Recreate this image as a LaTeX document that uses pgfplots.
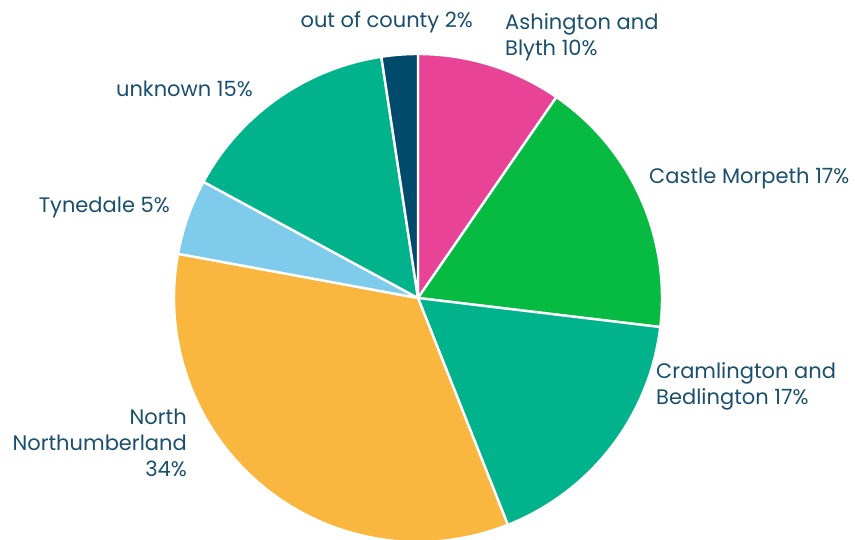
\documentclass[border=0pt]{standalone}
\usepackage{pgfplots}
\pgfplotsset{compat=1.18}
\usepackage{fontspec}
\setmainfont{Poppins}
\definecolor{cPink}{HTML}{E84397}
\definecolor{cGreen}{HTML}{07BA42}
\definecolor{cTeal}{HTML}{00B38C}
\definecolor{cYellow}{HTML}{F9B73F}
\definecolor{cLight}{HTML}{7FCBEC}
\definecolor{cNavy}{HTML}{004B6B}
\definecolor{cText}{HTML}{1A4F6E}
\tikzset{lbl/.style={font=\fontsize{21}{26}\selectfont, text=cText, inner sep=0pt}}
% slice: #1 start (percent, cumulative), #2 value (percent), #3 colour
\newcommand{\pieslice}[3]{%
  \addplot[fill=#3, draw=white, line width=2.4pt, line join=round,
    samples at={-1,0,1,...,100,101}, variable=\t]
    ({418 + ((\t<0 || \t>100) ? 0 : 244)*sin(3.6*(#1 + #2*min(max(\t,0),100)/100))},
     {241 + ((\t<0 || \t>100) ? 0 : 244)*cos(3.6*(#1 + #2*min(max(\t,0),100)/100))});
}
\begin{document}
\begin{tikzpicture}
\begin{axis}[
  scale only axis, width=855pt, height=539pt,
  xmin=0, xmax=855, ymin=0, ymax=539,
  axis line style={draw=none}, xtick=\empty, ytick=\empty,
  clip=true,
]
% values: Ashington and Blyth 9.6, Castle Morpeth 17.3, Cramlington and Bedlington 17.1,
% North Northumberland 33.9, Tynedale 5.0, unknown 14.7, out of county 2.4
\pieslice{0}{9.6}{cPink}
\pieslice{9.6}{17.3}{cGreen}
\pieslice{26.9}{17.1}{cTeal}
\pieslice{44.0}{33.9}{cYellow}
\pieslice{77.9}{5.0}{cLight}
\pieslice{82.9}{14.7}{cTeal}
\pieslice{97.6}{2.4}{cNavy}
\node[lbl, anchor=east] at (axis cs:473,517) {out of county 2\%};
\node[lbl, anchor=west, align=left] at (axis cs:505,502) {Ashington and\\Blyth 10\%};
\node[lbl, anchor=west] at (axis cs:649,361) {Castle Morpeth 17\%};
\node[lbl, anchor=west, align=left] at (axis cs:656,153) {Cramlington and\\Bedlington 17\%};
\node[lbl, anchor=east, align=right] at (axis cs:187,96) {North\\Northumberland\\34\%};
\node[lbl, anchor=east] at (axis cs:170,332) {Tynedale 5\%};
\node[lbl, anchor=east] at (axis cs:253,450) {unknown 15\%};
\end{axis}
\end{tikzpicture}
\end{document}
